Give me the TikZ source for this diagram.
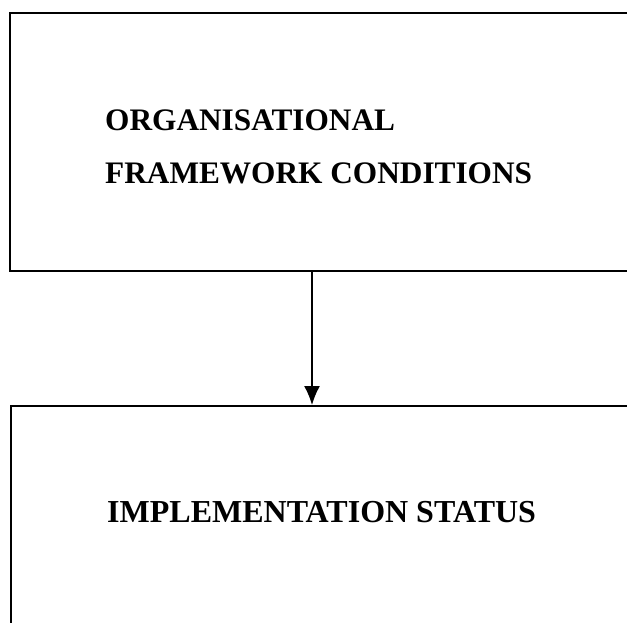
\documentclass[tikz,border=0pt]{standalone}
\usepackage{fontspec}
\setmainfont{Liberation Serif}
\usetikzlibrary{positioning,arrows.meta}

\tikzset{
  frame/.style={rectangle, draw, line width=2pt, anchor=north west},
  label/.style={anchor=base west, inner sep=0pt, font=\fontsize{31.3}{53}\selectfont\bfseries}
}

\begin{document}
\begin{tikzpicture}[x=1pt, y=-1pt]
            \clip (0,0) rectangle (627,622);
            \fill[white] (0,0) rectangle (627,622);

            \node[frame, minimum width=640pt, minimum height=258pt] (org) at (9,12) {};
            \node[frame, minimum width=640pt, minimum height=300pt] (impl) at (10,405) {};

            \node[label] (org1) at (105,130) {ORGANISATIONAL};
            \node[label] (org2) at (105,183) {FRAMEWORK CONDITIONS};
            \node[label, font=\fontsize{32}{53}\selectfont\bfseries] (stat) at (107,522) {IMPLEMENTATION STATUS};

            \coordinate (ax) at (312,0);
            \draw[-{Latex[length=19pt,width=16pt]}, line width=1.6pt] (org.south -| ax) -- (impl.north -| ax);
        \end{tikzpicture}
\end{document}
